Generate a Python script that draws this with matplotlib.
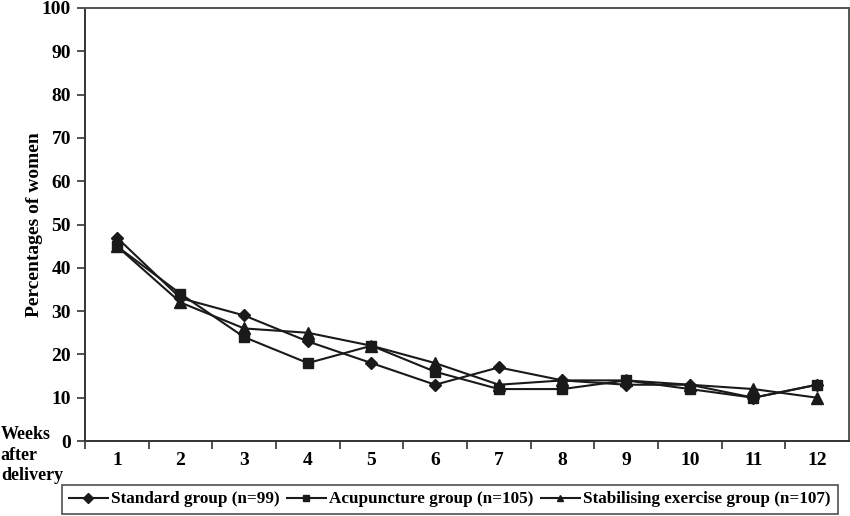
import matplotlib
matplotlib.use("Agg")
import matplotlib.pyplot as plt

weeks = [1, 2, 3, 4, 5, 6, 7, 8, 9, 10, 11, 12]
week_labels = ["1", "2", "3", "4", "5", "6", "7", "8", "9", "10", "11", "12"]
standard = [47, 33, 29, 23, 18, 13, 17, 14, 13, 13, 10, 13]
acupuncture = [45, 34, 24, 18, 22, 16, 12, 12, 14, 12, 10, 13]
stabilising = [45, 32, 26, 25, 22, 18, 13, 14, 14, 13, 12, 10]
series_names = ["Standard group (n=99)", "Acupuncture group (n=105)",
                "Stabilising exercise group (n=107)"]
y_ticks = [0, 10, 20, 30, 40, 50, 60, 70, 80, 90, 100]

plt.rcParams['font.family'] = ['Liberation Serif', 'DejaVu Serif']
plt.rcParams['font.weight'] = 'bold'

fig = plt.figure(figsize=(8.5, 5.16), dpi=100)
ax = fig.add_axes([0.1, 0.1453, 0.8988, 0.8392])

lc = '#1a1a1a'
ax.plot(weeks, standard, color=lc, lw=1.5, marker='D', ms=6, label=series_names[0])
ax.plot(weeks, acupuncture, color=lc, lw=1.5, marker='s', ms=7, label=series_names[1])
ax.plot(weeks, stabilising, color=lc, lw=1.5, marker='^', ms=8, label=series_names[2])

ax.set_xlim(0.5, 12.5)
ax.set_ylim(0, 100)
ax.set_yticks(y_ticks)
ax.set_yticklabels([str(v) for v in y_ticks], fontsize=14, fontweight='bold')
ax.set_xticks([w + 0.5 for w in weeks[:-1]] + [0.5])
ax.set_xticklabels([])
for w, lab in zip(weeks, week_labels):
    ax.text(w, -4.5, lab, ha='center', va='center', fontsize=14, fontweight='bold',
            transform=ax.transData)
ax.tick_params(axis='x', direction='out', length=6, width=1.3, color='#444444')
ax.tick_params(axis='y', direction='out', length=6, width=1.3, color='#444444', pad=4)
for s in ax.spines.values():
    s.set_color('#555555')
    s.set_linewidth(1.4)
ax.spines['left'].set_color('#333333')
ax.spines['bottom'].set_color('#333333')

ax.set_ylabel("Percentages of women", fontsize=14, fontweight='bold', labelpad=-1)

fig.text(0.001, 0.175, "Weeks\nafter\ndelivery", ha='left', va='top', fontsize=13,
         fontweight='bold', linespacing=1.3)

leg = fig.legend(loc='center', bbox_to_anchor=(0.529, 0.032), ncol=3, frameon=True,
                 fancybox=False, edgecolor='#222222', handlelength=2.3,
                 handletextpad=0.2, columnspacing=0.4, borderpad=0.4,
                 prop={'weight': 'bold', 'size': 12.3})
leg.get_frame().set_linewidth(1.2)
for h in leg.legend_handles:
    h.set_markersize(5)

fig.savefig("out.png", dpi=100)
